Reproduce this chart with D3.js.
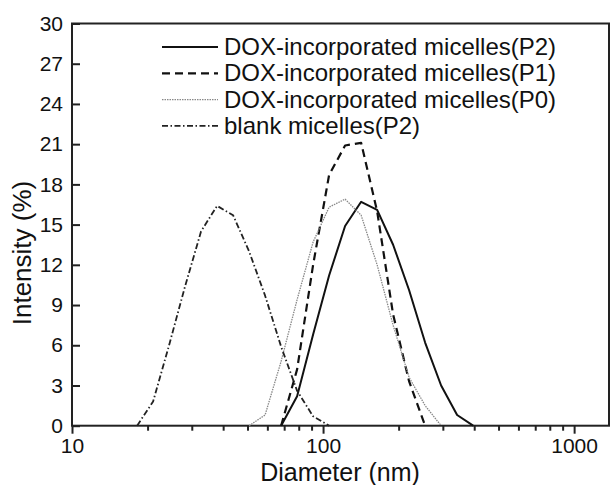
<!DOCTYPE html>
<html>
<head>
<meta charset="utf-8">
<script src="https://cdn.jsdelivr.net/npm/d3@7"></script>
<style>
  body { margin: 0; background: #fff; }
  text { font-family: "Liberation Sans", Arial, sans-serif; fill: #111; }
</style>
</head>
<body>
<svg id="chart" width="611" height="485"></svg>
<script>
// DLS size bins (nm)
const diameters = [18.17, 21.04, 24.36, 28.21, 32.67, 37.84, 43.82, 50.75, 58.77, 68.06, 78.82,
  91.28, 105.7, 122.4, 141.8, 164.2, 190.1, 220.2, 255.0, 295.3, 342.0, 396.1];

// intensity (%) per bin, null = not plotted
const p2Values = [null, null, null, null, null, null, null, null, null, 0, 2.2,
  6.8, 11.2, 14.9, 16.7, 16.1, 13.5, 10.1, 6.2, 3.0, 0.8, 0];
const p1Values = [null, null, null, null, null, null, null, null, null, 0, 4.2,
  12.0, 18.7, 20.9, 21.1, 16.0, 8.3, 3.3, 0, null, null, null];
const p0Values = [null, null, null, null, null, null, null, 0, 0.8, 4.8, 9.4,
  13.7, 16.3, 16.9, 15.7, 12.0, 7.5, 3.6, 1.5, 0, null, null];
const blankValues = [0, 1.8, 6.0, 10.4, 14.5, 16.4, 15.7, 13.0, 9.7, 5.9, 2.6,
  0.7, 0, null, null, null, null, null, null, null, null, null];

const seriesNames = ['DOX-incorporated micelles(P2)', 'DOX-incorporated micelles(P1)',
  'DOX-incorporated micelles(P0)', 'blank micelles(P2)'];
const yTicks = [0, 3, 6, 9, 12, 15, 18, 21, 24, 27, 30];
const xMajor = [10, 100, 1000];
const xMinor = [20, 30, 40, 50, 60, 70, 80, 90, 200, 300, 400, 500, 600, 700, 800, 900];

const styles = [
  { stroke: '#111', width: 2, dash: null },
  { stroke: '#111', width: 2.2, dash: '8,5' },
  { stroke: '#888', width: 1.3, dash: '1.5,1' },
  { stroke: '#222', width: 1.8, dash: '6,2.5,1.5,2.5' }
];
const series = [p2Values, p1Values, p0Values, blankValues];

const svg = d3.select('#chart');
const plotLeft = 72, plotRight = 609, plotTop = 23.5, plotBottom = 425.7;

const x = d3.scaleLog().domain([10, 1377]).range([plotLeft, plotRight]);
const y = d3.scaleLinear().domain([0, 30]).range([plotBottom, plotTop]);

// frame
svg.append('rect')
  .attr('x', plotLeft).attr('y', plotTop)
  .attr('width', plotRight - plotLeft).attr('height', plotBottom - plotTop)
  .attr('fill', 'none').attr('stroke', '#222').attr('stroke-width', 2);

// y axis, ticks inside
const yAxis = svg.append('g')
  .attr('transform', `translate(${plotLeft},0)`)
  .call(d3.axisLeft(y).tickValues(yTicks).tickSize(-8).tickPadding(9));
yAxis.select('.domain').remove();
yAxis.selectAll('line').attr('stroke', '#222').attr('stroke-width', 2);
yAxis.selectAll('text').attr('font-size', 21).attr('fill', '#111')
  .style('font-family', '"Liberation Sans", Arial, sans-serif');

// x axis, ticks outside
const xAxis = svg.append('g')
  .attr('transform', `translate(0,${plotBottom})`)
  .call(d3.axisBottom(x).tickValues(xMajor).tickSize(8).tickPadding(4).tickFormat(d3.format('d')));
xAxis.select('.domain').remove();
xAxis.selectAll('line').attr('stroke', '#222').attr('stroke-width', 2);
xAxis.selectAll('text').attr('font-size', 21).attr('fill', '#111')
  .style('font-family', '"Liberation Sans", Arial, sans-serif');

const xMinorAxis = svg.append('g')
  .attr('transform', `translate(0,${plotBottom})`)
  .call(d3.axisBottom(x).tickValues(xMinor).tickSize(5).tickFormat(''));
xMinorAxis.select('.domain').remove();
xMinorAxis.selectAll('line').attr('stroke', '#222').attr('stroke-width', 2);

// axis titles
svg.append('text')
  .attr('x', 340).attr('y', 481)
  .attr('text-anchor', 'middle').attr('font-size', 25)
  .text('Diameter (nm)');
svg.append('text')
  .attr('transform', 'translate(31,253) rotate(-90)')
  .attr('text-anchor', 'middle').attr('font-size', 26)
  .text('Intensity (%)');

// curves
const line = d3.line()
  .defined(d => d[1] !== null)
  .x(d => x(d[0]))
  .y(d => y(d[1]));

series.forEach((vals, i) => {
  const pts = diameters.map((d, j) => [d, vals[j]]);
  svg.append('path')
    .datum(pts)
    .attr('d', line)
    .attr('fill', 'none')
    .attr('stroke', styles[i].stroke)
    .attr('stroke-width', styles[i].width)
    .attr('stroke-dasharray', styles[i].dash)
    .attr('stroke-linejoin', 'round');
});

// legend
const legend = svg.append('g');
seriesNames.forEach((name, i) => {
  const by = 55 + i * 26.3;
  legend.append('line')
    .attr('x1', 162).attr('x2', 218)
    .attr('y1', by - 8).attr('y2', by - 8)
    .attr('stroke', styles[i].stroke)
    .attr('stroke-width', styles[i].width)
    .attr('stroke-dasharray', styles[i].dash);
  legend.append('text')
    .attr('x', 224).attr('y', by)
    .attr('font-size', 24)
    .text(name);
});
</script>
</body>
</html>
